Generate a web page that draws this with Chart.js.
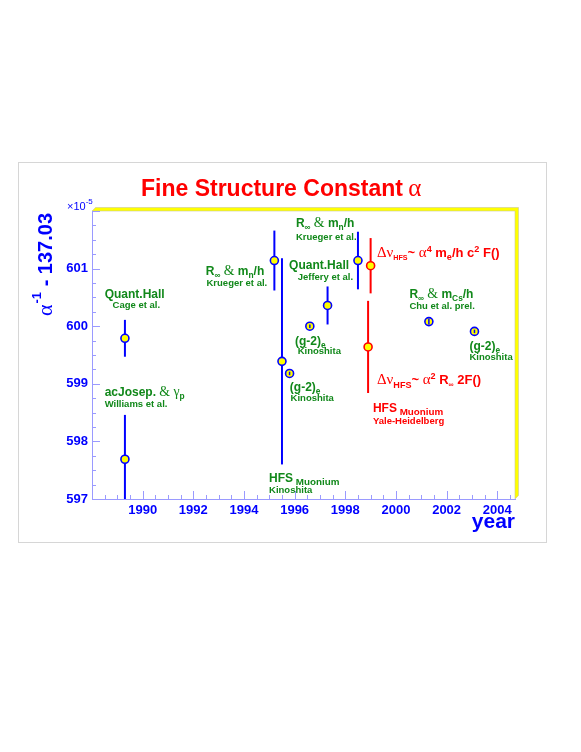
<!DOCTYPE html>
<html>
<head>
<meta charset="utf-8">
<script src="https://cdn.jsdelivr.net/npm/chart.js@4.4.1/dist/chart.umd.min.js"></script>
<style>
  html, body { margin: 0; padding: 0; background: #fff; }
  #wrap { position: relative; width: 581px; height: 752px; }
</style>
</head>
<body>
<div id="wrap"><canvas id="alfa"></canvas></div>
<script>
// Metingen van alpha^-1 - 137.03 (eenheid 1e-5)
const blauwJaren = [1989.3, 1989.3, 1995.2, 1995.5, 1995.8, 1996.6, 1997.3, 1998.5, 2001.3, 2003.1];
const blauwWaarden = [599.79, 597.69, 601.14, 599.39, 599.18, 600.00, 600.36, 601.14, 600.08, 599.91];
const blauwFouten = [0.32, 0.77, 0.52, 1.79, 0.03, 0.03, 0.33, 0.50, 0.05, 0.03];

const roodJaren = [1999.0, 1998.9];
const roodWaarden = [601.05, 599.64];
const roodFouten = [0.48, 0.80];

const xTicks = [1990, 1992, 1994, 1996, 1998, 2000, 2002, 2004];
const yTicks = [597, 598, 599, 600, 601];

const SANS = '"Liberation Sans", Arial, sans-serif';
const SERIF = '"Liberation Serif", "Times New Roman", serif';
const GROEN = '#11881a';
const ROOD = '#ff0000';
const BLAUW = '#0000ff';
const AS = '#9a9aff';

// labels: ankerpunt in data-coordinaten, tekst als runs
const notities = [
    { x: 1988.50, y: 600.49, k: GROEN, s: 12, runs: [['Quant.Hall', 'b']] },
    { x: 1988.81, y: 600.31, k: GROEN, s: 9.5, runs: [['Cage et al.', 'b']] },
    { x: 1988.50, y: 598.78, k: GROEN, s: 12, runs: [['acJosep. ', 'b'], ['&', 'g'], [' ', 'b'], ['γ', 'g'], ['p', 'sub']] },
    { x: 1988.50, y: 598.60, k: GROEN, s: 9.5, runs: [['Williams et al.', 'b']] },
    { x: 1992.49, y: 600.89, k: GROEN, s: 12, runs: [['R', 'b'], ['∞', 'sub'], [' ', 'b'], ['&', 'g'], [' m', 'b'], ['n', 'sub'], ['/h', 'b']] },
    { x: 1992.52, y: 600.69, k: GROEN, s: 9.5, runs: [['Krueger et al.', 'b']] },
    { x: 1996.05, y: 601.72, k: GROEN, s: 12, runs: [['R', 'b'], ['∞', 'sub'], [' ', 'b'], ['&', 'g'], [' m', 'b'], ['n', 'sub'], ['/h', 'b']] },
    { x: 1996.05, y: 601.50, k: GROEN, s: 9.5, runs: [['Krueger et al.', 'b']] },
    { x: 1995.78, y: 600.99, k: GROEN, s: 12, runs: [['Quant.Hall', 'b']] },
    { x: 1996.12, y: 600.81, k: GROEN, s: 9.5, runs: [['Jeffery et al.', 'b']] },
    { x: 1996.01, y: 599.68, k: GROEN, s: 12, runs: [['(g-2)', 'b'], ['e', 'sub']] },
    { x: 1996.12, y: 599.51, k: GROEN, s: 9.5, runs: [['Kinoshita', 'b']] },
    { x: 1995.81, y: 598.88, k: GROEN, s: 12, runs: [['(g-2)', 'b'], ['e', 'sub']] },
    { x: 1995.84, y: 598.70, k: GROEN, s: 9.5, runs: [['Kinoshita', 'b']] },
    { x: 1994.99, y: 597.30, k: GROEN, s: 12, runs: [['HFS', 'b'], [' Muonium', 'lsub']] },
    { x: 1994.99, y: 597.10, k: GROEN, s: 9.5, runs: [['Kinoshita', 'b']] },
    { x: 2000.53, y: 600.49, k: GROEN, s: 12, runs: [['R', 'b'], ['∞', 'sub'], [' ', 'b'], ['&', 'g'], [' m', 'b'], ['Cs', 'sub'], ['/h', 'b']] },
    { x: 2000.53, y: 600.30, k: GROEN, s: 9.5, runs: [['Chu et al. prel.', 'b']] },
    { x: 2002.90, y: 599.58, k: GROEN, s: 12, runs: [['(g-2)', 'b'], ['e', 'sub']] },
    { x: 2002.90, y: 599.41, k: GROEN, s: 9.5, runs: [['Kinoshita', 'b']] },
    { x: 1999.25, y: 601.20, k: ROOD, s: 13, runs: [['Δν', 'g'], ['HFS', 'ssub'], ['~ ', 'b'], ['α', 'g'], ['4', 'sup'], [' m', 'b'], ['e', 'sub'], ['/h c', 'b'], ['2', 'sup'], [' F()', 'b']] },
    { x: 1999.25, y: 598.99, k: ROOD, s: 13, runs: [['Δν', 'g'], ['HFS', 'sub'], ['~ ', 'b'], ['α', 'g'], ['2', 'sup'], [' R', 'b'], ['∞', 'ssub'], [' 2F()', 'b']] },
    { x: 1999.09, y: 598.51, k: ROOD, s: 12, runs: [['HFS', 'b'], [' Muonium', 'lsub']] },
    { x: 1999.09, y: 598.31, k: ROOD, s: 9.5, runs: [['Yale-Heidelberg', 'b']] }
];

function tekenRuns(ctx, x, y, runs, s) {
    let px = x;
    for (const [t, soort] of runs) {
        let dy = 0;
        if (soort === 'sub') { ctx.font = `bold ${s * 0.7}px ${SANS}`; dy = s * 0.25; }
        else if (soort === 'ssub') { ctx.font = `bold ${s * 0.55}px ${SANS}`; dy = s * 0.2; }
        else if (soort === 'lsub') { ctx.font = `bold ${s * 0.82}px ${SANS}`; dy = s * 0.28; }
        else if (soort === 'sup') { ctx.font = `bold ${s * 0.7}px ${SANS}`; dy = -s * 0.42; }
        else if (soort === 'g') { ctx.font = `${s * 1.15}px ${SERIF}`; }
        else { ctx.font = `bold ${s}px ${SANS}`; }
        ctx.fillText(t, px, y + dy);
        px += ctx.measureText(t).width;
    }
}

function foutBalken(ctx, xs, ys, jaren, waarden, fouten, kleur, alleenKlein) {
    ctx.strokeStyle = kleur;
    ctx.lineWidth = alleenKlein ? 1.5 : 2;
    for (let i = 0; i < jaren.length; i++) {
        const px = xs.getPixelForValue(jaren[i]);
        const y1 = ys.getPixelForValue(waarden[i] - fouten[i]);
        const y2 = ys.getPixelForValue(waarden[i] + fouten[i]);
        // kleine fouten vallen binnen de marker: daar bovenop tekenen
        if (alleenKlein && Math.abs(y1 - y2) > 8) continue;
        ctx.beginPath();
        ctx.moveTo(px, y1);
        ctx.lineTo(px, y2);
        ctx.stroke();
    }
}

const rootStijl = {
    id: 'rootStijl',
    beforeDraw(chart) {
        const ctx = chart.ctx;
        const a = chart.chartArea;
        ctx.save();
        ctx.fillStyle = '#fff';
        ctx.fillRect(0, 0, chart.width, chart.height);
        ctx.strokeStyle = '#d6d6d6';
        ctx.lineWidth = 1;
        ctx.strokeRect(18.5, 162.5, 528, 380);
        // gele 3D-rand boven en rechts
        ctx.fillStyle = '#ffff00';
        ctx.beginPath();
        ctx.moveTo(a.left, a.top);
        ctx.lineTo(a.left + 3.5, a.top - 3.5);
        ctx.lineTo(a.right + 3.5, a.top - 3.5);
        ctx.lineTo(a.right + 3.5, a.bottom - 3.5);
        ctx.lineTo(a.right, a.bottom);
        ctx.lineTo(a.right, a.top);
        ctx.closePath();
        ctx.fill();
        ctx.strokeStyle = '#c8c8a0';
        ctx.lineWidth = 0.6;
        ctx.stroke();
        ctx.restore();
    },
    beforeDatasetsDraw(chart) {
        const ctx = chart.ctx;
        const a = chart.chartArea;
        ctx.save();
        ctx.beginPath();
        ctx.rect(a.left, a.top, a.right - a.left, a.bottom - a.top);
        ctx.clip();
        foutBalken(ctx, chart.scales.x, chart.scales.y, blauwJaren, blauwWaarden, blauwFouten, BLAUW, false);
        foutBalken(ctx, chart.scales.x, chart.scales.y, roodJaren, roodWaarden, roodFouten, ROOD, false);
        ctx.restore();
    },
    afterDatasetsDraw(chart) {
        const ctx = chart.ctx;
        ctx.save();
        foutBalken(ctx, chart.scales.x, chart.scales.y, blauwJaren, blauwWaarden, blauwFouten, BLAUW, true);
        ctx.restore();
    },
    afterDraw(chart) {
        const ctx = chart.ctx;
        const a = chart.chartArea;
        const xs = chart.scales.x, ys = chart.scales.y;
        ctx.save();
        // ticks naar binnen, ROOT-stijl
        ctx.strokeStyle = AS;
        ctx.lineWidth = 1;
        ctx.beginPath();
        for (let v = 1988; v <= 2004.7; v += 0.5) {
            const px = Math.round(xs.getPixelForValue(v)) + 0.5;
            const len = (v % 2 === 0) ? 8 : 4;
            ctx.moveTo(px, a.bottom);
            ctx.lineTo(px, a.bottom - len);
        }
        for (let v = 597; v <= 602; v += 0.25) {
            const py = Math.round(ys.getPixelForValue(v)) + 0.5;
            const len = (v % 1 === 0) ? 8 : 4;
            ctx.moveTo(a.left, py);
            ctx.lineTo(a.left + len, py);
        }
        ctx.stroke();

        // labels
        ctx.textBaseline = 'alphabetic';
        ctx.textAlign = 'left';
        for (const n of notities) {
            ctx.fillStyle = n.k;
            tekenRuns(ctx, xs.getPixelForValue(n.x), ys.getPixelForValue(n.y), n.runs, n.s);
        }

        // titel
        ctx.fillStyle = ROOD;
        ctx.font = `bold 23px ${SANS}`;
        const titel = 'Fine Structure Constant ';
        ctx.fillText(titel, 141, 196);
        const tw = ctx.measureText(titel).width;
        ctx.font = `25px ${SERIF}`;
        ctx.fillText('α', 140 + tw, 196);

        // exponent
        ctx.fillStyle = BLAUW;
        ctx.font = `11px ${SANS}`;
        ctx.fillText('×10', 67, 210);
        const ew = ctx.measureText('×10').width;
        ctx.font = `8px ${SANS}`;
        ctx.fillText('-5', 67 + ew, 204);

        // x-as titel
        ctx.font = `bold 21px ${SANS}`;
        ctx.textAlign = 'right';
        ctx.fillText('year', 515, 528);

        // y-as titel
        ctx.textAlign = 'left';
        ctx.translate(52, 316);
        ctx.rotate(-Math.PI / 2);
        let u = 0;
        ctx.font = `22px ${SERIF}`;
        ctx.fillText('α', u, 0);
        u += ctx.measureText('α').width + 1;
        ctx.font = `bold 13px ${SANS}`;
        ctx.fillText('-1', u, -11);
        u += ctx.measureText('-1').width;
        ctx.font = `bold 20px ${SANS}`;
        ctx.fillText(' - 137.03', u, 0);
        ctx.restore();
    }
};

const ctx = document.getElementById('alfa').getContext('2d');
new Chart(ctx, {
    type: 'scatter',
    data: {
        datasets: [{
            data: blauwJaren.map((j, i) => ({ x: j, y: blauwWaarden[i] })),
            backgroundColor: '#ffff00',
            borderColor: BLAUW,
            borderWidth: 1.6,
            pointRadius: 4,
            pointHoverRadius: 4
        }, {
            data: roodJaren.map((j, i) => ({ x: j, y: roodWaarden[i] })),
            backgroundColor: '#ffff00',
            borderColor: ROOD,
            borderWidth: 1.6,
            pointRadius: 4,
            pointHoverRadius: 4
        }]
    },
    options: {
        responsive: true,
        maintainAspectRatio: false,
        animation: false,
        events: [],
        layout: {
            autoPadding: false,
            padding: { left: 62, top: 211, right: 66, bottom: 213 }
        },
        scales: {
            x: {
                type: 'linear',
                min: 1988,
                max: 2004.7,
                afterFit(s) { s.height = 40; },
                afterBuildTicks(s) { s.ticks = xTicks.map(v => ({ value: v })); },
                grid: { display: false, drawTicks: false },
                border: { display: true, color: AS, width: 1 },
                ticks: {
                    color: BLAUW,
                    padding: 4,
                    maxRotation: 0,
                    autoSkip: false,
                    font: { family: SANS, size: 13, weight: 'bold' },
                    callback: v => String(v)
                }
            },
            y: {
                type: 'linear',
                min: 597,
                max: 602,
                afterFit(s) { s.width = 30; },
                afterBuildTicks(s) { s.ticks = yTicks.map(v => ({ value: v })); },
                grid: { display: false, drawTicks: false },
                border: { display: true, color: AS, width: 1 },
                ticks: {
                    color: BLAUW,
                    padding: 4,
                    autoSkip: false,
                    font: { family: SANS, size: 13, weight: 'bold' },
                    callback: v => String(v)
                }
            }
        },
        plugins: {
            legend: { display: false },
            tooltip: { enabled: false },
            title: { display: false }
        }
    },
    plugins: [rootStijl]
});
</script>
</body>
</html>
